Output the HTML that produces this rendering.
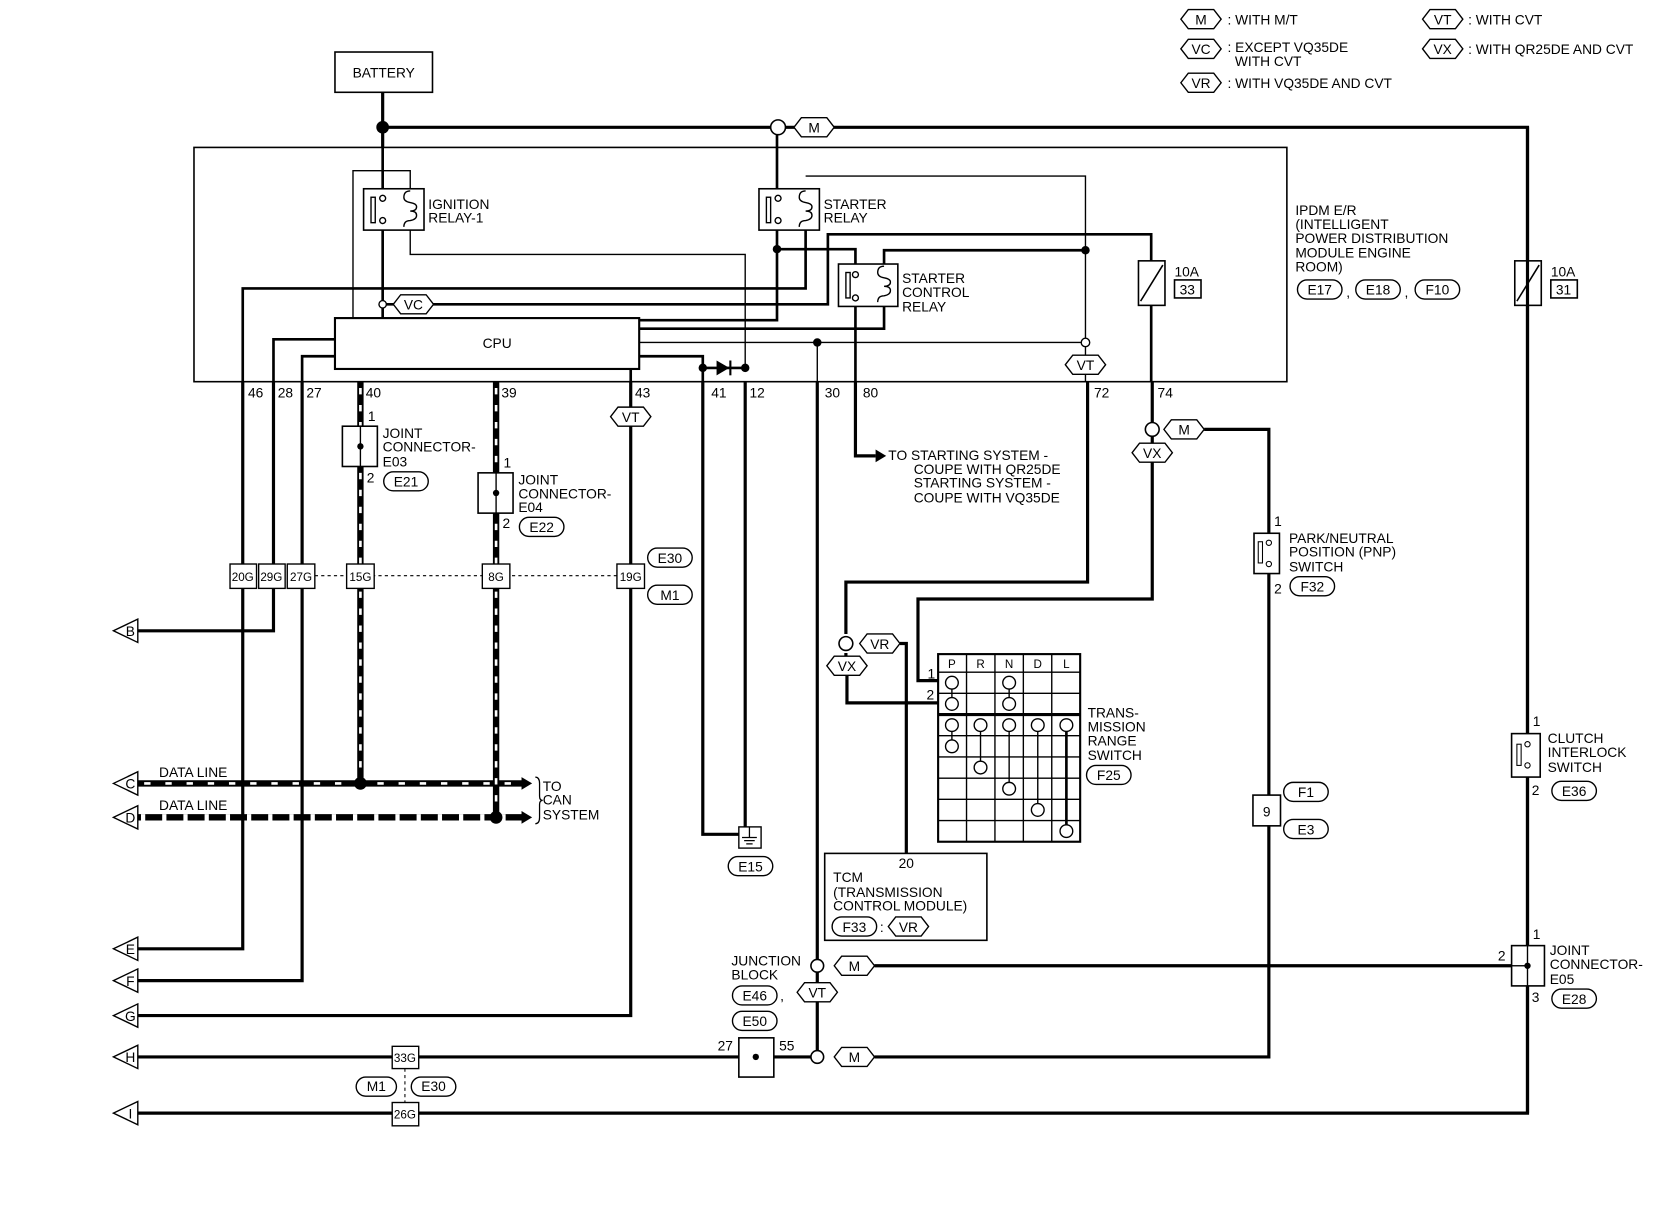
<!DOCTYPE html>
<html><head><meta charset="utf-8"><style>
html,body{margin:0;padding:0;background:#fff;}
svg{display:block;}
text{font-family:"Liberation Sans",sans-serif;font-size:13px;fill:#000;}
</style></head><body>
<svg width="1660" height="1216" viewBox="0 0 1566 1147" xmlns="http://www.w3.org/2000/svg">
<defs>
<polygon id="hx" points="-19,0 -12,-9 12,-9 19,0 12,9 -12,9" fill="#fff" stroke="#000" stroke-width="1.3"/>
<polygon id="tri" points="0,0 23,-11 23,11" fill="#fff" stroke="#000" stroke-width="1.3"/>
</defs>
<g fill="none" stroke="#000">
<!-- legend -->
</g>
<use href="#hx" x="1133" y="18"/><text x="1133" y="23" text-anchor="middle">M</text><text x="1158" y="23">: WITH M/T</text>
<use href="#hx" x="1133" y="46"/><text x="1133" y="51" text-anchor="middle">VC</text><text x="1158" y="49">: EXCEPT VQ35DE</text><text x="1165" y="62">WITH CVT</text>
<use href="#hx" x="1133" y="78"/><text x="1133" y="83" text-anchor="middle">VR</text><text x="1158" y="83">: WITH VQ35DE AND CVT</text>
<use href="#hx" x="1361" y="18"/><text x="1361" y="23" text-anchor="middle">VT</text><text x="1385" y="23">: WITH CVT</text>
<use href="#hx" x="1361" y="46"/><text x="1361" y="51" text-anchor="middle">VX</text><text x="1385" y="51">: WITH QR25DE AND CVT</text>

<!-- battery -->
<rect x="316" y="49" width="92" height="38" fill="#fff" stroke="#000" stroke-width="1.5"/>
<text x="362" y="73" text-anchor="middle">BATTERY</text>

<g fill="none" stroke="#000" stroke-width="3">
<path d="M361 87V139M361 120H1441V1050"/>
<path d="M1441 911"/>
</g>
<!-- IPDM box -->
<rect x="183" y="139" width="1031" height="221" fill="none" stroke="#000" stroke-width="1.5"/>

<!-- thin wires -->
<g fill="none" stroke="#000" stroke-width="1.3">
<path d="M333 300V161H387V180"/>
<path d="M387 216V240H703V350"/>
<path d="M760 166H1024V323"/>
<path d="M603 323H1024"/>
<path d="M771 323V360"/>
<path d="M1024 323V360"/>
</g>
<!-- medium wires -->
<g fill="none" stroke="#000" stroke-width="2.5">
<path d="M361 139V300"/>
<path d="M733 120V180M733 216V302H603"/>
<path d="M733 235H807V252M807 286V360"/>
<path d="M834 250V236H1024"/>
<path d="M834 288V310H603"/>
<path d="M229 360V272H760V216"/>
<path d="M361 287H781V221H1086V246M1086 288V360"/>
<path d="M316 320H258V360M316 336H285V360"/>
<path d="M595 348V360"/>
<path d="M603 336H663V360"/>
<path d="M663 347H703"/>
</g>
<circle cx="361" cy="120" r="6"/>
<circle cx="734" cy="120" r="7" fill="#fff" stroke="#000" stroke-width="1.5"/>
<use href="#hx" x="768" y="120"/><text x="768" y="125" text-anchor="middle">M</text>
<circle cx="361" cy="287" r="3.5" fill="#fff" stroke="#000" stroke-width="1.3"/>
<use href="#hx" x="390" y="287"/><text x="390" y="292" text-anchor="middle">VC</text>
<circle cx="733" cy="235" r="4"/><circle cx="1024" cy="236" r="4"/><circle cx="771" cy="323" r="4"/>
<circle cx="1024" cy="323" r="4" fill="#fff" stroke="#000" stroke-width="1.3"/>
<use href="#hx" x="1024" y="344"/><text x="1024" y="349" text-anchor="middle">VT</text>
<circle cx="663" cy="347" r="4"/><circle cx="703" cy="347" r="4"/>
<polygon points="676,340 676,354 688,347" fill="#000"/><line x1="689" y1="340" x2="689" y2="354" stroke="#000" stroke-width="2"/>

<!-- relays -->
<g fill="#fff" stroke="#000" stroke-width="1.5">
<rect x="343" y="178" width="57" height="39"/>
<rect x="716" y="178" width="57" height="39"/>
<rect x="791" y="249" width="56" height="40"/>
</g>
<g fill="none" stroke="#000" stroke-width="1.3">
<rect x="350" y="186" width="4" height="24"/><rect x="723" y="186" width="4" height="24"/><rect x="798" y="257" width="4" height="24"/>
<circle cx="361" cy="187" r="2.8" fill="#fff"/><circle cx="361" cy="208" r="2.8" fill="#fff"/>
<circle cx="734" cy="187" r="2.8" fill="#fff"/><circle cx="734" cy="208" r="2.8" fill="#fff"/>
<circle cx="807" cy="259" r="2.8" fill="#fff"/><circle cx="807" cy="281" r="2.8" fill="#fff"/>
<path d="M387 180q-6 0-6 6 0 4 6 5 6 1 6 4 0 4-6 4 6 0 6 4 0 4-6 5q-6 0-6 6"/>
<path d="M760 180q-6 0-6 6 0 4 6 5 6 1 6 4 0 4-6 4 6 0 6 4 0 4-6 5q-6 0-6 6"/>
<path d="M834 251q-6 0-6 6 0 4 6 5 6 1 6 4 0 4-6 4 6 0 6 4 0 4-6 5q-6 0-6 6"/>
</g>
<text x="404" y="197">IGNITION</text><text x="404" y="210">RELAY-1</text>
<text x="777" y="197">STARTER</text><text x="777" y="210">RELAY</text>
<text x="851" y="267">STARTER</text><text x="851" y="280">CONTROL</text><text x="851" y="294">RELAY</text>

<!-- CPU -->
<rect x="316" y="300" width="287" height="48" fill="#fff" stroke="#000" stroke-width="2"/>
<text x="469" y="328" text-anchor="middle">CPU</text>

<!-- fuses -->
<g fill="#fff" stroke="#000" stroke-width="1.5">
<rect x="1074" y="246" width="25" height="42"/><line x1="1076" y1="284" x2="1097" y2="250"/>
<rect x="1429" y="246" width="25" height="42"/><line x1="1431" y1="284" x2="1452" y2="250"/>
<rect x="1108" y="264" width="25" height="17"/><rect x="1463" y="264" width="25" height="17"/>
</g>
<text x="1108" y="261">10A</text><text x="1120" y="278" text-anchor="middle">33</text>
<text x="1463" y="261">10A</text><text x="1475" y="278" text-anchor="middle">31</text>

<!-- IPDM label -->
<text x="1222" y="203">IPDM E/R</text><text x="1222" y="216">(INTELLIGENT</text><text x="1222" y="229">POWER DISTRIBUTION</text><text x="1222" y="243">MODULE ENGINE</text><text x="1222" y="256">ROOM)</text>
<g fill="#fff" stroke="#000" stroke-width="1.3">
<rect x="1224" y="264" width="42" height="18" rx="9"/><rect x="1279" y="264" width="42" height="18" rx="9"/><rect x="1335" y="264" width="42" height="18" rx="9"/>
</g>
<text x="1245" y="278" text-anchor="middle">E17</text><text x="1270" y="280">,</text><text x="1300" y="278" text-anchor="middle">E18</text><text x="1325" y="280">,</text><text x="1356" y="278" text-anchor="middle">F10</text>

<!-- pin numbers -->
<text x="234" y="375">46</text><text x="262" y="375">28</text><text x="289" y="375">27</text><text x="345" y="375">40</text><text x="473" y="375">39</text><text x="599" y="375">43</text><text x="671" y="375">41</text><text x="707" y="375">12</text><text x="778" y="375">30</text><text x="814" y="375">80</text><text x="1032" y="375">72</text><text x="1092" y="375">74</text>

<!-- external thick wires -->
<g fill="none" stroke="#000" stroke-width="3">
<path d="M229 360V895H130"/>
<path d="M258 360V595H130"/>
<path d="M285 360V925H130"/>
<path d="M595 360V384M595 402V958H130"/>
<path d="M663 360V787H703V360"/>
<path d="M771 360V997"/>
<path d="M807 360V430H826"/>
<path d="M1026 360V549H798V598M798 616V619M799 637V663H885"/>
<path d="M1087 360V398M1087 412V418M1087 436V565H866V642H885"/>
<path d="M849 607H855V805"/>
<path d="M1136 405H1197V503M1197 541V750M1197 779V997H825"/>
<path d="M825 911H1426"/>
<path d="M1441 120V692M1441 733V892"/>
<path d="M130 997H697M730 997H771"/>
<path d="M130 1050H1441V930"/>
</g>
<polygon points="826,424 836,430 826,436" fill="#000"/>
<text x="838" y="434">TO STARTING SYSTEM -</text><text x="862" y="447">COUPE WITH QR25DE</text><text x="862" y="460">STARTING SYSTEM -</text><text x="862" y="474">COUPE WITH VQ35DE</text>

<use href="#hx" x="595" y="393"/><text x="595" y="398" text-anchor="middle">VT</text>

<!-- CAN dashed lines -->
<g fill="none">
<path d="M340 360V739M468 360V771M130 739H495M130 771H495" stroke="#000" stroke-width="6"/>
<path d="M340 366V739M468 366V771" stroke="#fff" stroke-width="2.5" stroke-dasharray="6 10"/>
<path d="M136 739H495" stroke="#fff" stroke-width="2.5" stroke-dasharray="6 14"/>
<path d="M133 771H495" stroke="#fff" stroke-width="6" stroke-dasharray="4 16"/>
</g>
<polygon points="492,733 502,739 492,745" fill="#000"/><polygon points="492,765 502,771 492,777" fill="#000"/>
<circle cx="340" cy="739" r="6"/><circle cx="468" cy="771" r="6"/>
<path d="M505 733q4 0 4 6v12q0 4 3 4-3 0-3 4v12q0 6-4 6" fill="none" stroke="#000" stroke-width="1.2"/>
<text x="512" y="746">TO</text><text x="512" y="759">CAN</text><text x="512" y="773">SYSTEM</text>
<text x="150" y="733">DATA LINE</text><text x="150" y="764">DATA LINE</text>

<!-- joint connectors E03/E04 -->
<g fill="#fff" stroke="#000" stroke-width="1.5">
<rect x="323" y="402" width="33" height="38"/><rect x="451" y="446" width="33" height="38"/>
</g>
<line x1="340" y1="402" x2="340" y2="440" stroke="#000" stroke-width="1.3"/><line x1="468" y1="446" x2="468" y2="484" stroke="#000" stroke-width="1.3"/>
<circle cx="340" cy="421" r="3"/><circle cx="468" cy="465" r="3"/>
<text x="347" y="397">1</text><text x="346" y="455">2</text><text x="361" y="413">JOINT</text><text x="361" y="426">CONNECTOR-</text><text x="361" y="440">E03</text>
<text x="475" y="441">1</text><text x="474" y="498">2</text><text x="489" y="457">JOINT</text><text x="489" y="470">CONNECTOR-</text><text x="489" y="483">E04</text>
<g fill="#fff" stroke="#000" stroke-width="1.3">
<rect x="362" y="445" width="42" height="18" rx="9"/><rect x="490" y="488" width="42" height="18" rx="9"/>
<rect x="611" y="517" width="42" height="18" rx="9"/><rect x="611" y="552" width="42" height="18" rx="9"/>
</g>
<text x="383" y="459" text-anchor="middle">E21</text><text x="511" y="502" text-anchor="middle">E22</text>
<text x="632" y="531" text-anchor="middle">E30</text><text x="632" y="566" text-anchor="middle">M1</text>

<!-- connector row -->
<line x1="297" y1="543" x2="582" y2="543" stroke="#000" stroke-width="1" stroke-dasharray="3 3"/>
<g fill="#fff" stroke="#000" stroke-width="1.3">
<rect x="217" y="532" width="25" height="23"/><rect x="244" y="532" width="25" height="23"/><rect x="271" y="532" width="26" height="23"/>
<rect x="327" y="532" width="26" height="23"/><rect x="455" y="532" width="26" height="23"/><rect x="582" y="532" width="26" height="23"/>
</g>
<g font-size="11" text-anchor="middle">
<text x="229" y="548" style="font-size:11px">20G</text><text x="256" y="548" style="font-size:11px">29G</text><text x="284" y="548" style="font-size:11px">27G</text>
<text x="340" y="548" style="font-size:11px">15G</text><text x="468" y="548" style="font-size:11px">8G</text><text x="595" y="548" style="font-size:11px">19G</text>
</g>

<!-- left arrows -->
<use href="#tri" x="107" y="595"/><text x="123" y="600" text-anchor="middle">B</text>
<use href="#tri" x="107" y="739"/><text x="123" y="744" text-anchor="middle">C</text>
<use href="#tri" x="107" y="771"/><text x="123" y="776" text-anchor="middle">D</text>
<use href="#tri" x="107" y="895"/><text x="123" y="900" text-anchor="middle">E</text>
<use href="#tri" x="107" y="925"/><text x="123" y="930" text-anchor="middle">F</text>
<use href="#tri" x="107" y="958"/><text x="123" y="963" text-anchor="middle">G</text>
<use href="#tri" x="107" y="997"/><text x="123" y="1002" text-anchor="middle">H</text>
<use href="#tri" x="107" y="1050"/><text x="123" y="1055" text-anchor="middle">I</text>

<!-- ground E15 -->
<rect x="697" y="780" width="21" height="20" fill="#fff" stroke="#000" stroke-width="1.3"/>
<path d="M707 780V790M700 790H714M702 793H712M704 796H710" stroke="#000" stroke-width="1.2" fill="none"/>
<rect x="687" y="808" width="42" height="18" rx="9" fill="#fff" stroke="#000" stroke-width="1.3"/><text x="708" y="822" text-anchor="middle">E15</text>

<!-- 33G/26G -->
<g fill="#fff" stroke="#000" stroke-width="1.3">
<rect x="370" y="987" width="25" height="21"/><rect x="370" y="1040" width="25" height="22"/>
<rect x="336" y="1016" width="38" height="18" rx="9"/><rect x="388" y="1016" width="42" height="18" rx="9"/>
</g>
<line x1="382" y1="1008" x2="382" y2="1040" stroke="#000" stroke-dasharray="3 3"/>
<text x="382" y="1002" text-anchor="middle" style="font-size:11px">33G</text><text x="382" y="1055" text-anchor="middle" style="font-size:11px">26G</text>
<text x="355" y="1029" text-anchor="middle">M1</text><text x="409" y="1029" text-anchor="middle">E30</text>

<!-- junction block -->
<rect x="697" y="979" width="33" height="37" fill="#fff" stroke="#000" stroke-width="1.5"/><circle cx="713" cy="997" r="3"/>
<text x="677" y="991">27</text><text x="735" y="991">55</text>
<text x="690" y="911">JUNCTION</text><text x="690" y="924">BLOCK</text>
<g fill="#fff" stroke="#000" stroke-width="1.3"><rect x="691" y="930" width="42" height="18" rx="9"/><rect x="691" y="954" width="42" height="18" rx="9"/></g>
<text x="712" y="944" text-anchor="middle">E46</text><text x="736" y="944">,</text><text x="712" y="968" text-anchor="middle">E50</text>
<circle cx="771" cy="911" r="6" fill="#fff" stroke="#000" stroke-width="1.5"/>
<circle cx="771" cy="997" r="6" fill="#fff" stroke="#000" stroke-width="1.5"/>
<use href="#hx" x="806" y="911"/><text x="806" y="916" text-anchor="middle">M</text>
<use href="#hx" x="806" y="997"/><text x="806" y="1002" text-anchor="middle">M</text>
<use href="#hx" x="771" y="936"/><text x="771" y="941" text-anchor="middle">VT</text>

<!-- 74 / PNP -->
<circle cx="1087" cy="405" r="6.5" fill="#fff" stroke="#000" stroke-width="1.5"/>
<use href="#hx" x="1117" y="405"/><text x="1117" y="410" text-anchor="middle">M</text>
<use href="#hx" x="1087" y="427"/><text x="1087" y="432" text-anchor="middle">VX</text>
<circle cx="798" cy="607" r="6.5" fill="#fff" stroke="#000" stroke-width="1.5"/>
<use href="#hx" x="830" y="607"/><text x="830" y="612" text-anchor="middle">VR</text>
<use href="#hx" x="799" y="628"/><text x="799" y="633" text-anchor="middle">VX</text>

<rect x="1183" y="503" width="24" height="38" fill="#fff" stroke="#000" stroke-width="1.5"/>
<rect x="1187" y="511" width="4" height="20" fill="none" stroke="#000"/><circle cx="1197" cy="512" r="2.5" fill="#fff" stroke="#000"/><circle cx="1197" cy="532" r="2.5" fill="#fff" stroke="#000"/>
<text x="1202" y="496">1</text><text x="1202" y="560">2</text>
<text x="1216" y="512">PARK/NEUTRAL</text><text x="1216" y="525">POSITION (PNP)</text><text x="1216" y="539">SWITCH</text>
<rect x="1217" y="544" width="42" height="18" rx="9" fill="#fff" stroke="#000" stroke-width="1.3"/><text x="1238" y="558" text-anchor="middle">F32</text>

<rect x="1182" y="750" width="26" height="29" fill="#fff" stroke="#000" stroke-width="1.5"/><text x="1195" y="770" text-anchor="middle">9</text>
<g fill="#fff" stroke="#000" stroke-width="1.3"><rect x="1211" y="738" width="42" height="18" rx="9"/><rect x="1211" y="773" width="42" height="18" rx="9"/></g>
<text x="1232" y="752" text-anchor="middle">F1</text><text x="1232" y="787" text-anchor="middle">E3</text>

<!-- clutch interlock -->
<rect x="1426" y="692" width="27" height="41" fill="#fff" stroke="#000" stroke-width="1.5"/>
<rect x="1431" y="702" width="4" height="20" fill="none" stroke="#000"/><circle cx="1441" cy="702" r="2.5" fill="#fff" stroke="#000"/><circle cx="1441" cy="722" r="2.5" fill="#fff" stroke="#000"/>
<text x="1446" y="685">1</text><text x="1445" y="750">2</text>
<text x="1460" y="701">CLUTCH</text><text x="1460" y="714">INTERLOCK</text><text x="1460" y="728">SWITCH</text>
<rect x="1464" y="737" width="42" height="18" rx="9" fill="#fff" stroke="#000" stroke-width="1.3"/><text x="1485" y="751" text-anchor="middle">E36</text>

<!-- joint connector E05 -->
<rect x="1426" y="892" width="31" height="38" fill="#fff" stroke="#000" stroke-width="1.5"/>
<line x1="1441" y1="892" x2="1441" y2="930" stroke="#000" stroke-width="1.3"/><line x1="1426" y1="911" x2="1441" y2="911" stroke="#000" stroke-width="1.3"/>
<circle cx="1441" cy="911" r="3"/>
<text x="1446" y="886">1</text><text x="1413" y="906">2</text><text x="1445" y="945">3</text>
<text x="1462" y="901">JOINT</text><text x="1462" y="914">CONNECTOR-</text><text x="1462" y="928">E05</text>
<rect x="1464" y="933" width="42" height="18" rx="9" fill="#fff" stroke="#000" stroke-width="1.3"/><text x="1485" y="947" text-anchor="middle">E28</text>

<!-- Transmission range switch grid -->
<g fill="none" stroke="#000" stroke-width="1.3">
<rect x="885" y="617" width="134" height="177" stroke-width="2"/>
<path d="M911.8 617V794M938.6 617V794M965.4 617V794M992.2 617V794"/>
<path d="M885 634H1019M885 654H1019M885 694H1019M885 714H1019M885 734H1019M885 754H1019M885 774H1019"/>
<path d="M885 674H1019" stroke-width="3"/>
<path d="M898 644V664M952 644V664M898 684V704M925 684V724M952 684V744M979 684V764" />
<path d="M1006 684V784" stroke-width="2.5"/>
</g>
<g fill="#fff" stroke="#000" stroke-width="1.3">
<circle cx="898" cy="644" r="6"/><circle cx="898" cy="664" r="6"/><circle cx="952" cy="644" r="6"/><circle cx="952" cy="664" r="6"/>
<circle cx="898" cy="684" r="6"/><circle cx="925" cy="684" r="6"/><circle cx="952" cy="684" r="6"/><circle cx="979" cy="684" r="6"/><circle cx="1006" cy="684" r="6"/>
<circle cx="898" cy="704" r="6"/><circle cx="925" cy="724" r="6"/><circle cx="952" cy="744" r="6"/><circle cx="979" cy="764" r="6"/><circle cx="1006" cy="784" r="6"/>
</g>
<g style="font-size:11px" text-anchor="middle">
<text x="898" y="630" style="font-size:11px">P</text><text x="925" y="630" style="font-size:11px">R</text><text x="952" y="630" style="font-size:11px">N</text><text x="979" y="630" style="font-size:11px">D</text><text x="1006" y="630" style="font-size:11px">L</text>
</g>
<text x="875" y="640">1</text><text x="874" y="660">2</text>
<text x="1026" y="677">TRANS-</text><text x="1026" y="690">MISSION</text><text x="1026" y="703">RANGE</text><text x="1026" y="717">SWITCH</text>
<rect x="1025" y="722" width="42" height="18" rx="9" fill="#fff" stroke="#000" stroke-width="1.3"/><text x="1046" y="736" text-anchor="middle">F25</text>

<!-- TCM -->
<rect x="778" y="805" width="153" height="82" fill="none" stroke="#000" stroke-width="1.5"/>
<text x="855" y="819" text-anchor="middle">20</text>
<text x="786" y="832">TCM</text><text x="786" y="846">(TRANSMISSION</text><text x="786" y="859">CONTROL MODULE)</text>
<rect x="785" y="865" width="42" height="18" rx="9" fill="#fff" stroke="#000" stroke-width="1.3"/><text x="806" y="879" text-anchor="middle">F33</text>
<text x="830" y="879">:</text>
<use href="#hx" x="857" y="874"/><text x="857" y="879" text-anchor="middle">VR</text>
</svg>
</body></html>
